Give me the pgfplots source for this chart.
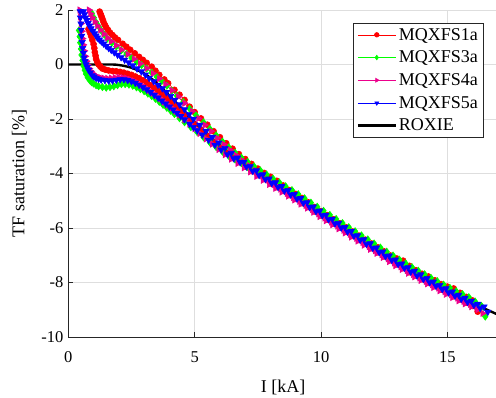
\documentclass[border=0pt]{standalone}
\usepackage{fontspec}
\setmainfont{Liberation Serif}
\usepackage{pgfplots}
\usepackage{pgfplotstable}
\pgfplotsset{compat=1.18}
\newcommand\tickfont{\fontsize{16.5}{19}\selectfont}
\newcommand\labfont{\fontsize{18}{21}\selectfont}
\newcommand\legfont{\fontsize{18}{20}\selectfont}

\pgfplotstableread{
x y
0.80 1.30
0.85 1.18
0.90 1.05
0.95 0.90
1.00 0.75
1.03 0.60
1.05 0.45
1.08 0.32
1.10 0.20
1.15 0.09
1.20 0.00
1.27 -0.08
1.35 -0.15
1.47 -0.19
1.60 -0.22
1.75 -0.24
1.90 -0.25
2.05 -0.27
2.20 -0.30
2.35 -0.34
2.50 -0.38
2.65 -0.44
2.80 -0.50
2.95 -0.58
3.10 -0.66
3.25 -0.76
3.40 -0.86
3.55 -0.97
3.70 -1.08
3.85 -1.20
4.00 -1.32
4.15 -1.44
4.30 -1.57
4.45 -1.71
4.60 -1.85
4.80 -2.02
5.00 -2.20
5.25 -2.42
5.50 -2.63
5.75 -2.85
6.00 -3.06
6.25 -3.25
6.50 -3.43
6.75 -3.58
7.00 -3.75
7.25 -3.91
7.50 -4.06
7.75 -4.20
8.00 -4.36
8.25 -4.50
8.50 -4.64
8.75 -4.79
9.00 -4.93
9.25 -5.09
9.50 -5.23
9.75 -5.39
10.00 -5.54
10.25 -5.69
10.50 -5.84
10.75 -5.98
11.00 -6.14
11.25 -6.29
11.50 -6.44
11.75 -6.58
12.00 -6.74
12.25 -6.89
12.50 -7.04
12.75 -7.18
13.00 -7.33
13.25 -7.47
13.50 -7.62
13.75 -7.74
14.00 -7.88
14.25 -8.01
14.50 -8.13
14.75 -8.26
15.00 -8.38
15.25 -8.50
15.50 -8.62
15.75 -8.74
16.00 -8.86
16.20 -9.07
16.25 -8.87
16.00 -8.66
15.75 -8.53
15.50 -8.38
15.25 -8.22
15.00 -8.15
14.75 -8.06
14.50 -7.92
14.25 -7.78
14.00 -7.68
13.75 -7.55
13.50 -7.39
13.25 -7.20
13.00 -7.12
12.75 -7.01
12.50 -6.86
12.25 -6.71
12.00 -6.57
11.75 -6.43
11.50 -6.28
11.25 -6.13
11.00 -5.98
10.75 -5.83
10.50 -5.68
10.25 -5.53
10.00 -5.38
9.75 -5.23
9.50 -5.06
9.25 -4.90
9.00 -4.75
8.75 -4.61
8.50 -4.44
8.25 -4.27
8.00 -4.12
7.75 -3.98
7.50 -3.82
7.25 -3.65
7.00 -3.47
6.75 -3.29
6.50 -3.09
6.25 -2.89
6.00 -2.67
5.75 -2.45
5.50 -2.21
5.25 -1.98
5.00 -1.75
4.80 -1.55
4.60 -1.30
4.40 -1.11
4.20 -0.93
3.95 -0.69
3.80 -0.55
3.60 -0.38
3.45 -0.23
3.30 -0.08
3.10 0.06
2.95 0.17
2.80 0.28
2.63 0.41
2.45 0.54
2.30 0.65
2.15 0.76
1.97 0.90
1.85 0.99
1.75 1.08
1.65 1.17
1.57 1.27
1.50 1.36
1.45 1.45
1.40 1.54
1.37 1.63
1.33 1.72
1.30 1.80
1.27 1.87
1.24 1.94
}\redtab

\pgfplotstableread{
x y
0.42 1.25
0.45 1.02
0.47 0.80
0.50 0.57
0.52 0.35
0.56 0.15
0.60 -0.05
0.65 -0.21
0.70 -0.35
0.77 -0.48
0.85 -0.58
0.92 -0.65
1.00 -0.70
1.10 -0.76
1.20 -0.80
1.35 -0.83
1.50 -0.85
1.65 -0.83
1.80 -0.80
1.95 -0.76
2.10 -0.72
2.25 -0.72
2.40 -0.74
2.55 -0.78
2.70 -0.84
2.85 -0.90
3.00 -0.98
3.15 -1.07
3.30 -1.16
3.45 -1.26
3.60 -1.37
3.75 -1.48
3.90 -1.59
4.05 -1.70
4.20 -1.82
4.40 -1.97
4.60 -2.12
4.85 -2.30
5.10 -2.48
5.35 -2.67
5.60 -2.86
5.85 -3.03
6.10 -3.20
6.35 -3.35
6.60 -3.49
6.85 -3.62
7.10 -3.76
7.35 -3.89
7.60 -4.01
7.85 -4.16
8.10 -4.31
8.35 -4.45
8.60 -4.59
8.85 -4.74
9.10 -4.88
9.35 -5.03
9.60 -5.18
9.85 -5.33
10.10 -5.49
10.35 -5.64
10.60 -5.79
10.85 -5.94
11.10 -6.09
11.35 -6.24
11.60 -6.39
11.85 -6.54
12.10 -6.69
12.35 -6.84
12.60 -6.99
12.85 -7.14
13.10 -7.28
13.35 -7.42
13.60 -7.56
13.85 -7.69
14.10 -7.82
14.35 -7.95
14.60 -8.07
14.85 -8.20
15.10 -8.32
15.35 -8.44
15.60 -8.55
15.85 -8.66
16.10 -8.77
16.30 -8.95
16.50 -9.25
16.35 -8.86
16.10 -8.70
15.85 -8.54
15.60 -8.43
15.35 -8.32
15.10 -8.20
14.85 -8.08
14.60 -7.95
14.35 -7.83
14.10 -7.70
13.85 -7.57
13.60 -7.44
13.35 -7.30
13.10 -7.16
12.85 -7.01
12.60 -6.87
12.35 -6.72
12.10 -6.57
11.85 -6.42
11.60 -6.27
11.35 -6.12
11.10 -5.97
10.85 -5.82
10.60 -5.67
10.35 -5.52
10.10 -5.37
9.85 -5.22
9.60 -5.07
9.35 -4.91
9.10 -4.76
8.85 -4.61
8.60 -4.47
8.35 -4.33
8.10 -4.19
7.85 -4.04
7.60 -3.89
7.35 -3.74
7.10 -3.58
6.85 -3.42
6.60 -3.24
6.35 -3.04
6.10 -2.83
5.85 -2.60
5.60 -2.36
5.35 -2.12
5.05 -1.86
4.80 -1.62
4.55 -1.38
4.30 -1.15
4.10 -0.96
3.90 -0.78
3.70 -0.61
3.50 -0.45
3.30 -0.30
3.10 -0.15
2.90 -0.02
2.70 0.10
2.50 0.24
2.30 0.38
2.10 0.52
1.90 0.66
1.72 0.80
1.55 0.95
1.42 1.10
1.30 1.25
1.20 1.40
1.10 1.55
1.01 1.72
0.93 1.88
}\greentab

\pgfplotstableread{
x y
0.45 2.00
0.47 1.75
0.50 1.50
0.53 1.22
0.56 0.95
0.59 0.72
0.63 0.50
0.67 0.30
0.72 0.12
0.77 -0.02
0.83 -0.15
0.90 -0.25
0.97 -0.33
1.05 -0.40
1.15 -0.45
1.27 -0.48
1.40 -0.50
1.55 -0.51
1.70 -0.50
1.85 -0.48
2.00 -0.47
2.15 -0.48
2.30 -0.50
2.45 -0.55
2.60 -0.60
2.75 -0.68
2.90 -0.76
3.05 -0.85
3.20 -0.95
3.35 -1.05
3.50 -1.15
3.65 -1.26
3.80 -1.38
3.95 -1.49
4.10 -1.60
4.25 -1.72
4.40 -1.85
4.60 -2.02
4.80 -2.18
5.00 -2.36
5.20 -2.53
5.45 -2.73
5.70 -2.92
5.95 -3.12
6.20 -3.31
6.45 -3.47
6.70 -3.63
6.95 -3.79
7.20 -3.94
7.45 -4.10
7.70 -4.25
7.95 -4.40
8.20 -4.54
8.45 -4.68
8.70 -4.83
8.95 -4.97
9.20 -5.12
9.45 -5.27
9.70 -5.42
9.95 -5.58
10.20 -5.73
10.45 -5.88
10.70 -6.03
10.95 -6.18
11.20 -6.33
11.45 -6.48
11.70 -6.63
11.95 -6.78
12.20 -6.93
12.45 -7.08
12.70 -7.23
12.95 -7.38
13.20 -7.52
13.45 -7.66
13.70 -7.79
13.95 -7.92
14.20 -8.05
14.45 -8.18
14.70 -8.30
14.95 -8.43
15.20 -8.55
15.45 -8.67
15.70 -8.78
15.95 -8.89
16.20 -8.99
16.40 -9.13
16.15 -8.90
15.90 -8.80
15.65 -8.69
15.40 -8.57
15.15 -8.45
14.90 -8.33
14.65 -8.20
14.40 -8.08
14.15 -7.96
13.90 -7.83
13.65 -7.70
13.40 -7.56
13.15 -7.42
12.90 -7.28
12.65 -7.13
12.40 -6.98
12.15 -6.83
11.90 -6.68
11.65 -6.53
11.40 -6.38
11.15 -6.23
10.90 -6.08
10.65 -5.93
10.40 -5.78
10.15 -5.63
9.90 -5.48
9.65 -5.32
9.40 -5.17
9.15 -5.02
8.90 -4.88
8.65 -4.73
8.40 -4.57
8.15 -4.40
7.90 -4.24
7.65 -4.07
7.40 -3.89
7.15 -3.71
6.90 -3.53
6.65 -3.34
6.40 -3.14
6.15 -2.93
5.90 -2.70
5.65 -2.45
5.40 -2.22
5.15 -1.98
4.90 -1.72
4.60 -1.42
4.35 -1.18
4.10 -0.95
3.85 -0.73
3.60 -0.52
3.35 -0.33
3.10 -0.14
2.85 0.03
2.60 0.20
2.35 0.37
2.10 0.54
1.90 0.70
1.70 0.85
1.55 0.98
1.40 1.12
1.27 1.27
1.15 1.42
1.05 1.57
0.95 1.72
0.88 1.86
0.82 2.00
}\magtab

\pgfplotstableread{
x y
0.47 1.95
0.48 1.72
0.50 1.50
0.51 1.27
0.53 1.05
0.55 0.82
0.57 0.60
0.60 0.42
0.62 0.25
0.66 0.12
0.70 0.00
0.75 -0.10
0.80 -0.20
0.87 -0.30
0.95 -0.40
1.02 -0.45
1.10 -0.50
1.20 -0.53
1.30 -0.56
1.45 -0.58
1.60 -0.60
1.75 -0.59
1.90 -0.57
2.05 -0.55
2.20 -0.55
2.35 -0.58
2.50 -0.62
2.65 -0.68
2.80 -0.75
2.95 -0.83
3.10 -0.92
3.25 -1.02
3.40 -1.12
3.55 -1.22
3.70 -1.33
3.85 -1.44
4.00 -1.55
4.15 -1.66
4.30 -1.78
4.45 -1.90
4.60 -2.02
4.80 -2.18
4.95 -2.30
5.10 -2.42
5.30 -2.58
5.55 -2.77
5.80 -2.95
6.05 -3.13
6.30 -3.30
6.55 -3.45
6.80 -3.59
7.05 -3.75
7.30 -3.91
7.55 -4.06
7.80 -4.21
8.05 -4.36
8.30 -4.50
8.55 -4.64
8.80 -4.78
9.05 -4.93
9.30 -5.08
9.55 -5.24
9.80 -5.39
10.05 -5.54
10.30 -5.69
10.55 -5.84
10.80 -5.99
11.05 -6.14
11.30 -6.29
11.55 -6.44
11.80 -6.59
12.05 -6.74
12.30 -6.89
12.55 -7.04
12.80 -7.18
13.05 -7.33
13.30 -7.47
13.55 -7.61
13.80 -7.75
14.05 -7.88
14.30 -8.00
14.55 -8.13
14.80 -8.25
15.05 -8.37
15.30 -8.49
15.55 -8.61
15.80 -8.72
16.05 -8.83
16.30 -8.94
16.60 -9.08
16.45 -8.89
16.20 -8.79
15.95 -8.68
15.70 -8.57
15.45 -8.46
15.20 -8.34
14.95 -8.22
14.70 -8.10
14.45 -7.97
14.20 -7.84
13.95 -7.71
13.70 -7.58
13.45 -7.45
13.20 -7.31
12.95 -7.16
12.70 -7.02
12.45 -6.87
12.20 -6.72
11.95 -6.57
11.70 -6.42
11.45 -6.27
11.20 -6.12
10.95 -5.97
10.70 -5.82
10.45 -5.67
10.20 -5.52
9.95 -5.37
9.70 -5.22
9.45 -5.06
9.20 -4.91
8.95 -4.76
8.70 -4.61
8.45 -4.47
8.20 -4.33
7.95 -4.19
7.70 -4.04
7.45 -3.89
7.20 -3.74
6.95 -3.58
6.70 -3.42
6.45 -3.25
6.20 -3.07
5.95 -2.87
5.70 -2.66
5.45 -2.44
5.20 -2.22
4.95 -2.00
4.78 -1.83
4.60 -1.65
4.40 -1.47
4.21 -1.30
4.05 -1.16
3.88 -1.02
3.72 -0.88
3.55 -0.75
3.38 -0.62
3.20 -0.50
3.05 -0.38
2.89 -0.26
2.72 -0.15
2.55 -0.04
2.39 0.07
2.23 0.17
2.09 0.26
1.95 0.35
1.82 0.44
1.70 0.53
1.60 0.60
1.50 0.68
1.40 0.76
1.31 0.84
1.23 0.91
1.15 0.98
1.10 1.06
1.04 1.14
0.97 1.23
0.90 1.32
0.84 1.42
0.78 1.51
0.73 1.62
0.68 1.72
0.64 1.84
0.60 1.95
}\bluetab

\pgfplotstableread{
x y
0 0
1 0
1.75 0
2 -0.02
2.25 -0.06
2.5 -0.12
2.75 -0.21
3 -0.33
3.25 -0.49
3.5 -0.68
3.75 -0.9
4 -1.15
4.25 -1.4
4.5 -1.65
4.75 -1.89
5 -2.12
5.5 -2.55
6 -2.98
6.5 -3.35
7 -3.67
7.5 -3.98
8 -4.28
8.5 -4.56
9 -4.85
9.5 -5.15
10 -5.46
10.5 -5.76
11 -6.06
11.5 -6.36
12 -6.66
12.5 -6.96
13 -7.25
13.5 -7.54
14 -7.80
14.5 -8.05
15 -8.30
15.5 -8.54
16 -8.76
16.5 -8.97
17 -9.18
}\roxietab

\begin{document}
\begin{tikzpicture}
\begin{axis}[
  scale only axis, width=429.6pt, height=327pt,
  xmin=0, xmax=17, ymin=-10, ymax=2,
  axis x line*=bottom, axis y line*=left,
  tick align=inside, major tick length=5pt,
  xtick={0,5,10,15}, xticklabels={0,5,10,15},
  ytick={-10,-8,-6,-4,-2,0,2}, yticklabels={-10,-8,-6,-4,-2,0,2},
  grid=major, grid style={draw=black!13, line width=0.6pt},
  axis line style={black!85, line width=0.6pt},
  tick style={black!85, line width=0.6pt},
  xticklabel style={font=\tickfont, yshift=-11pt},
  yticklabel style={font=\tickfont, xshift=-1.5pt},
  xlabel={I [kA]}, ylabel={TF saturation [\%]},
  xlabel style={font=\labfont, at={(axis description cs:0.5,0)}, anchor=center, yshift=-50pt},
  ylabel style={font=\labfont, at={(axis description cs:0,0.5)}, anchor=center, rotate=0, yshift=49pt},
  legend image code/.code={\draw[mark repeat=2,mark phase=2,mark size=2.3pt] plot coordinates {(0pt,0pt) (19pt,0pt) (38pt,0pt)};},
  legend style={at={(rel axis cs:0.966,0.9593)}, anchor=north east, draw=black!85, line width=0.6pt, fill=white, font=\legfont, inner xsep=3pt, inner ysep=2.5pt, row sep=5.3pt, cells={anchor=west}},
  legend cell align=left,
]
\addplot[red, line width=0.6pt, mark=*, mark size=3pt, mark options={fill=red}] table {\redtab};
\addplot[green, line width=0.6pt, mark=diamond*, mark size=3.6pt, mark options={fill=green}] table {\greentab};
\addplot[magenta, line width=0.6pt, mark=triangle*, mark size=3.6pt, mark options={fill=magenta, rotate=-90}] table {\magtab};
\addplot[blue, line width=0.6pt, mark=triangle*, mark size=3.6pt, mark options={fill=blue, rotate=180}] table {\bluetab};
\addplot[black, line width=2.4pt, smooth] table {\roxietab};
\legend{MQXFS1a,MQXFS3a,MQXFS4a,MQXFS5a,ROXIE}
\coordinate (ll) at (rel axis cs:0,0);
\coordinate (ur) at (rel axis cs:1,1);
\end{axis}
\pgfresetboundingbox
\path ([xshift=-68.3pt,yshift=-61pt]ll) rectangle ([xshift=-1.9pt,yshift=10pt]ur);
\end{tikzpicture}
\end{document}
